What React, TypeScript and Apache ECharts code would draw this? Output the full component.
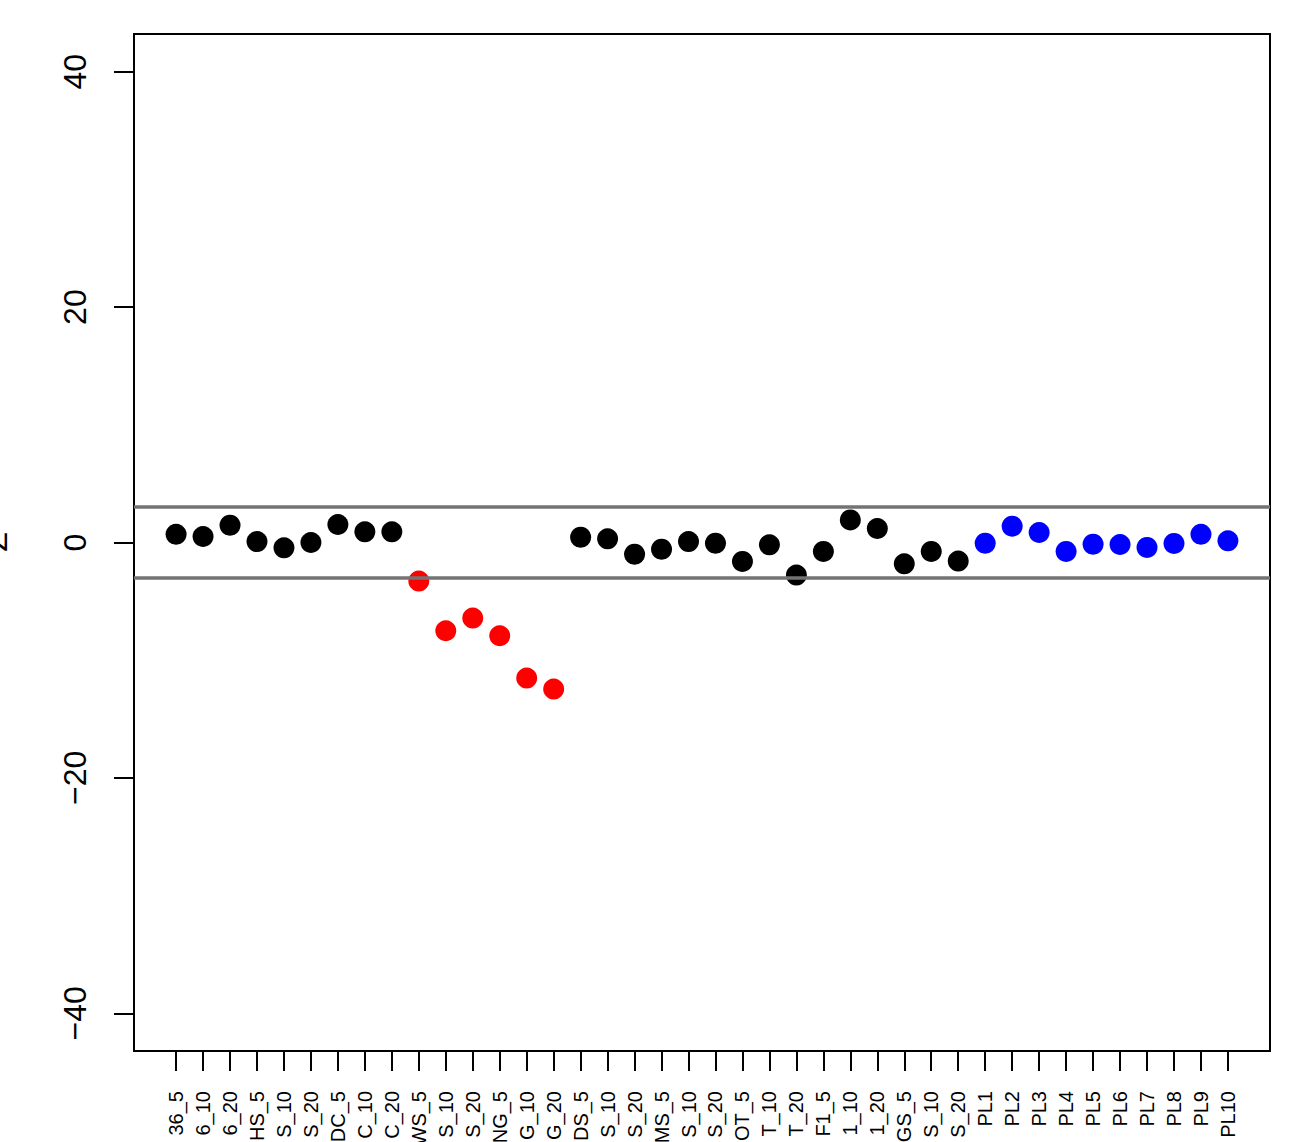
import React, { useEffect, useRef } from "react";
import * as echarts from "echarts";

const categories = [
  "36_5", "6_10", "6_20", "HS_5", "S_10", "S_20", "DC_5", "C_10", "C_20", "WS_5",
  "S_10", "S_20", "NG_5", "G_10", "G_20", "DS_5", "S_10", "S_20", "MS_5", "S_10",
  "S_20", "OT_5", "T_10", "T_20", "F1_5", "1_10", "1_20", "GS_5", "S_10", "S_20",
  "PL1", "PL2", "PL3", "PL4", "PL5", "PL6", "PL7", "PL8", "PL9", "PL10",
];

const zValues = [
  0.70, 0.51, 1.47, 0.08, -0.45, 0.0, 1.53, 0.91, 0.91,
  -3.28, -7.50, -6.42, -7.92, -11.52, -12.45,
  0.45, 0.31, -0.99, -0.57, 0.08, -0.06, -1.61, -0.20, -2.77, -0.76, 1.92, 1.19, -1.81, -0.76, -1.58,
  -0.06, 1.39, 0.85, -0.76, -0.14, -0.17, -0.42, -0.08, 0.70, 0.14,
];

const pointGroups = [
  "ok", "ok", "ok", "ok", "ok", "ok", "ok", "ok", "ok",
  "out", "out", "out", "out", "out", "out",
  "ok", "ok", "ok", "ok", "ok", "ok", "ok", "ok", "ok", "ok", "ok", "ok", "ok", "ok", "ok",
  "ref", "ref", "ref", "ref", "ref", "ref", "ref", "ref", "ref", "ref",
];

const groupColors: Record<string, string> = { ok: "#000000", out: "#ff0000", ref: "#0000ff" };
const yTicks = [-40, -20, 0, 20, 40];
const thresholds = [3, -3];
const yTitle = "Z";

export default function App() {
  const ref = useRef<HTMLDivElement>(null);
  useEffect(() => {
    if (!ref.current) return;
    const chart = echarts.init(ref.current, undefined, { renderer: "svg" });
    const xs = categories.map((_, i) => i + 1);
    const font = "Liberation Sans, Arial, Helvetica, sans-serif";
    const groupSeries = Object.keys(groupColors).map((g) => ({
      type: "scatter",
      name: g,
      symbol: "circle",
      symbolSize: 21,
      itemStyle: { color: groupColors[g], opacity: 1 },
      z: 2,
      data: zValues
        .map((v, i) => ({ v, i }))
        .filter((d) => pointGroups[d.i] === g)
        .map((d) => [d.i + 1, d.v]),
    }));
    chart.setOption({
      animation: false,
      backgroundColor: "#ffffff",
      grid: {
        left: 134,
        top: 34,
        width: 1136,
        height: 1017,
        show: true,
        borderColor: "#000000",
        borderWidth: 2,
        backgroundColor: "transparent",
        containLabel: false,
        outerBoundsMode: "none",
      },
      xAxis: {
        type: "value",
        min: -0.56,
        max: 41.56,
        axisLine: { show: false, onZero: false },
        splitLine: { show: false },
        axisTick: {
          show: true,
          inside: false,
          length: 20,
          lineStyle: { color: "#000000", width: 2 },
          customValues: xs,
        },
        axisLabel: {
          show: true,
          rotate: 90,
          margin: 40,
          fontSize: 20,
          color: "#000000",
          fontFamily: font,
          customValues: xs,
          formatter: (v: number) => categories[Math.round(v) - 1] ?? "",
        },
      },
      yAxis: {
        type: "value",
        min: -43.2,
        max: 43.2,
        axisLine: { show: false, onZero: false },
        splitLine: { show: false },
        axisTick: {
          show: true,
          inside: false,
          length: 20,
          lineStyle: { color: "#000000", width: 2 },
          customValues: yTicks,
        },
        axisLabel: {
          show: true,
          rotate: 90,
          margin: 43,
          fontSize: 32,
          color: "#000000",
          fontFamily: font,
          customValues: yTicks,
          formatter: (v: number) => (v < 0 ? "\u2212" + Math.abs(v) : String(v)),
        },
      },
      graphic: [
        {
          type: "text",
          x: -4,
          y: 542,
          rotation: Math.PI / 2,
          style: {
            text: yTitle,
            fontSize: 32,
            fontFamily: font,
            fill: "#000000",
            align: "center",
            verticalAlign: "middle",
          },
        },
      ],
      series: [
        ...groupSeries,
        {
          type: "line",
          data: [],
          z: 5,
          silent: true,
          markLine: {
            silent: true,
            symbol: ["none", "none"],
            label: { show: false },
            lineStyle: { color: "#737373", width: 3.5, type: "solid" },
            data: thresholds.map((t) => ({ yAxis: t })),
          },
        },
      ],
    });
    return () => chart.dispose();
  }, []);
  return (
    <div
      ref={ref}
      style={{ position: "absolute", left: 0, top: 0, width: 1306, height: 1142 }}
    />
  );
}
